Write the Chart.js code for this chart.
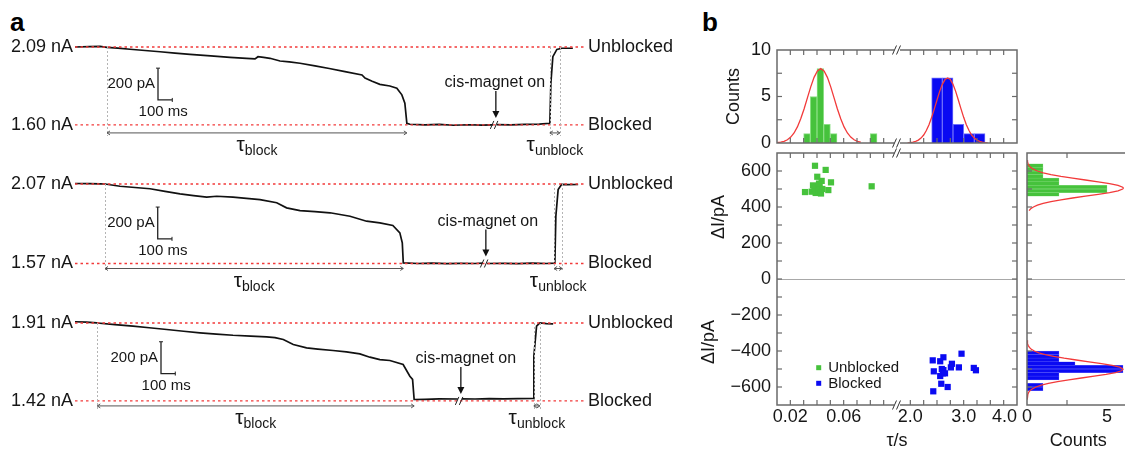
<!DOCTYPE html>
<html><head><meta charset="utf-8">
<script src="https://cdn.jsdelivr.net/npm/chart.js@4.4.1/dist/chart.umd.min.js"></script>
<style>
html,body{margin:0;padding:0;background:#fff;overflow:hidden;width:1125px;height:453px;}
#root{position:relative;width:1125px;height:453px;overflow:hidden;background:#fff;}
canvas{position:absolute;}
.lbl{position:absolute;font:bold 26px 'Liberation Sans',Arial,sans-serif;line-height:26px;color:#000;}
</style></head><body>
<div id="root">
<div class="lbl" style="left:10px;top:9px">a</div>
<div class="lbl" style="left:702px;top:9px">b</div>
<canvas id="tr1" width="700" height="160" style="left:0;top:0"></canvas>
<canvas id="tr2" width="700" height="160" style="left:0;top:137px"></canvas>
<canvas id="tr3" width="700" height="160" style="left:0;top:276px"></canvas>
<canvas id="hTop" width="340" height="110" style="left:690px;top:40px"></canvas>
<canvas id="scat" width="340" height="308" style="left:690px;top:145px"></canvas>
<canvas id="hRight" width="150" height="308" style="left:1000px;top:145px"></canvas>
</div>
<script>
// ================= DATA: panel a (time in ms on display axis, current in nA) =================
const trace1_t = [0,100,175,224,300,385,490,595,700,805,950,1085,1200,1260,1281,1320,1365,1435,1500,1575,1680,1780,1890,2009,2030,2080,2134,2204,2253,2288,2309,2323,2344,2450,2550,2650,2750,2850,2925,2939,2953,3050,3150,3250,3324,3331,3345,3373,3408,3485];
const trace1_I = [2.090,2.092,2.094,2.088,2.083,2.076,2.068,2.060,2.052,2.044,2.034,2.025,2.019,2.015,2.029,2.025,2.019,2.002,1.996,1.988,1.971,1.955,1.935,1.914,1.895,1.875,1.855,1.845,1.831,1.789,1.736,1.610,1.604,1.600,1.603,1.598,1.601,1.599,1.600,null,1.602,1.600,1.603,1.605,1.610,1.862,2.029,2.075,2.082,2.082];
const trace1_levels = [2.09, 1.60];           // unblocked, blocked
const trace1_tauBlock = [224, 2323];
const trace1_tauUnblock = [3324, 3394];
const trace1_break = 2939;

const trace2_t = [0,100,175,210,315,420,525,630,735,830,922,992,1106,1200,1295,1412,1481,1575,1680,1785,1925,2041,2134,2225,2274,2291,2298,2400,2500,2600,2700,2800,2855,2869,2883,3000,3100,3200,3300,3359,3366,3382,3406,3450,3522];
const trace2_I = [2.073,2.072,2.071,2.070,2.056,2.048,2.040,2.024,2.008,1.997,1.987,1.993,1.987,1.980,1.972,1.952,1.920,1.903,1.896,1.889,1.867,1.836,1.826,1.809,1.763,1.700,1.574,1.570,1.572,1.569,1.571,1.570,1.572,null,1.570,1.571,1.569,1.572,1.570,1.572,1.867,2.035,2.067,2.066,2.067];
const trace2_levels = [2.07, 1.57];
const trace2_tauBlock = [210, 2298];
const trace2_tauUnblock = [3354, 3410];
const trace2_break = 2869;

const trace3_t = [0,80,152,156,280,406,520,642,760,875,990,1106,1230,1341,1400,1458,1528,1621,1700,1806,1900,1994,2064,2134,2204,2297,2344,2363,2374,2450,2550,2680,2694,2708,2800,2900,3000,3100,3207,3212,3231,3254,3300,3347];
const trace3_I = [1.918,1.915,1.911,1.910,1.900,1.890,1.880,1.869,1.858,1.848,1.840,1.833,1.828,1.823,1.818,1.806,1.775,1.754,1.746,1.737,1.728,1.716,1.695,1.680,1.674,1.649,1.575,1.555,1.429,1.430,1.433,1.432,null,1.433,1.432,1.434,1.433,1.434,1.435,1.701,1.890,1.911,1.906,1.905];
const trace3_levels = [1.91, 1.42];
const trace3_tauBlock = [156, 2374];
const trace3_tauUnblock = [3212, 3254];
const trace3_break = 2694;

// ================= DATA: panel b =================
// top histogram of tau (bin centres in s, counts)
const histTop_green_tau = [0.0325, 0.0375, 0.0425, 0.0475, 0.0525, 0.0825];
const histTop_green_count = [1, 5, 8, 2, 1, 1];
const histTop_blue_tau = [2.5, 2.7, 2.9, 3.1, 3.3];
const histTop_blue_count = [7, 7, 2, 1, 1];
// fitted curves
const fitTop_green_tau = [0.0100,0.0128,0.0153,0.0178,0.0203,0.0228,0.0253,0.0278,0.0303,0.0328,0.0353,0.0378,0.0403,0.0428,0.0453,0.0478,0.0503,0.0528,0.0553,0.0578,0.0603,0.0628,0.0653,0.0678,0.0703,0.0728];
const fitTop_green_count = [0.04,0.09,0.18,0.35,0.64,1.08,1.73,2.60,3.66,4.85,6.04,7.06,7.75,8.00,7.75,7.06,6.04,4.85,3.66,2.60,1.73,1.08,0.64,0.35,0.18,0.09];
const fitTop_blue_tau = [1.95,2.00,2.05,2.10,2.15,2.20,2.25,2.30,2.35,2.40,2.45,2.50,2.55,2.60,2.65,2.70,2.75,2.80,2.85,2.90,2.95,3.00,3.05,3.10,3.15,3.20,3.25,3.30,3.35,3.40,3.45];
const fitTop_blue_count = [0.02,0.044,0.089,0.17,0.31,0.53,0.86,1.34,1.97,2.76,3.67,4.63,5.55,6.31,6.82,7.00,6.82,6.31,5.55,4.63,3.67,2.76,1.97,1.34,0.86,0.53,0.31,0.17,0.089,0.044,0.02];

// scatter: tau (s) vs delta I (pA)
const scatter_green_tau = [0.0385,0.0465,0.0402,0.0505,0.0810,0.0310,0.0485,0.0360,0.0380,0.0390,0.0370,0.0410,0.0420,0.0430,0.0415,0.0440,0.0425,0.0435];
const scatter_green_dI  = [629,606,568,537,515,483,494,485,505,478,520,490,510,475,530,500,482,545];
const scatter_blue_tau  = [2.42,2.56,2.62,2.96,2.78,2.76,2.91,2.44,2.59,2.62,2.61,2.56,2.65,3.19,3.23,2.58,2.70,2.43];
const scatter_blue_dI   = [-452,-457,-435,-415,-471,-491,-491,-513,-500,-506,-524,-539,-524,-494,-507,-582,-600,-624];
const scatter_labels = ['Unblocked', 'Blocked'];

// right histogram of delta I (bin centres in pA, counts)
const histR_green_dI = [630, 610, 590, 570, 550, 530, 510, 490, 470];
const histR_green_count = [1, 1, 1, 1, 2, 2, 5, 5, 2];
const histR_blue_dI = [-410, -430, -450, -470, -490, -510, -530, -550, -590, -610];
const histR_blue_count = [2, 2, 2, 3, 6, 6, 2, 2, 1, 1];
const fitR_green_dI = [660,650,640,630,620,610,600,590,580,570,560,550,540,530,520,510,505,500,490,480,470,460,450,440,430,420,410,400,390,380];
const fitR_green_count = [0.016,0.034,0.067,0.13,0.23,0.40,0.65,1.01,1.50,2.12,2.85,3.65,4.45,5.16,5.69,5.98,6.02,5.98,5.69,5.16,4.45,3.65,2.85,2.12,1.50,1.01,0.65,0.40,0.23,0.13];
const fitR_blue_dI = [-340,-350,-360,-370,-380,-390,-400,-410,-420,-430,-440,-450,-460,-470,-480,-490,-500,-502,-510,-520,-530,-540,-550,-560,-570,-580,-590,-600,-610,-620,-630,-640,-650,-660,-670];
const fitR_blue_count = [0.009,0.02,0.041,0.081,0.15,0.27,0.46,0.74,1.14,1.67,2.32,3.08,3.88,4.66,5.32,5.79,5.99,6.00,5.91,5.54,4.94,4.20,3.40,2.61,1.91,1.34,0.89,0.56,0.34,0.19,0.10,0.055,0.027,0.013,0.006];

// tick labels
const tauTickLabels = [0.02, 0.06, 2.0, 3.0, 4.0];
const countTickLabels = [0, 5];

// ================= STYLE / LAYOUT =================
const FONT = "'Liberation Sans', Arial, Helvetica, sans-serif";
const INK = '#161616';
const RED = '#f23a3a';
const GREEN = '#46c23c', GREEN_EDGE = '#8ade83';
const BLUE = '#0a0af2', BLUE_EDGE = '#6d6dfb';
const FRAME = '#6a6a6a';
Chart.defaults.font.family = FONT;
Chart.defaults.color = INK;

// broken tau axis: left segment 0.01..0.10 (linear), right segment 1.75..4.0 (linear)
function tauToAxis(t) { return t < 1 ? (t - 0.01) / 0.01 : 9 + (t - 1.75) / 0.25; }
const AXIS_MAX = 18, AXIS_BREAK = 9;

function xy(xs, ys, fx) { return xs.map((v, i) => ({x: fx ? fx(v) : v, y: ys[i]})); }
function yx(ys, xs) { return ys.map((v, i) => ({x: xs[i], y: v})); }
function fixW(w) { return s => { s.width = w; s.paddingTop = 0; s.paddingBottom = 0; }; }
function fixH(h) { return s => { s.height = h; s.paddingLeft = 0; s.paddingRight = 0; }; }
function line(ctx, x1, y1, x2, y2) { ctx.beginPath(); ctx.moveTo(x1, y1); ctx.lineTo(x2, y2); ctx.stroke(); }

// ---------- panel a plugin ----------
const traceAnn = {
  id: 'traceAnn',
  afterDatasetsDraw(chart, args, o) {
    const {ctx} = chart;
    const X = v => chart.scales.x.getPixelForValue(v);
    const Y = v => chart.scales.y.getPixelForValue(v);
    const yU = Y(o.levels[0]), yB = Y(o.levels[1]);
    const ay = yB + o.arrowGap;
    ctx.save();
    ctx.strokeStyle = '#b4b4b4'; ctx.lineWidth = 1; ctx.setLineDash([2, 2]);
    [o.tauBlock[0], o.tauUnblock[0], o.tauUnblock[1]].forEach(t => line(ctx, Math.round(X(t)) + 0.5, yU, Math.round(X(t)) + 0.5, ay + 3));
    ctx.setLineDash([]);
    ctx.strokeStyle = '#555'; ctx.lineWidth = 1;
    [o.tauBlock, o.tauUnblock].forEach(r => {
      const x1 = X(r[0]), x2 = X(r[1]);
      line(ctx, x1, ay, x2, ay);
      ctx.beginPath(); ctx.moveTo(x1 + 3, ay - 2); ctx.lineTo(x1, ay); ctx.lineTo(x1 + 3, ay + 2);
      ctx.moveTo(x2 - 3, ay - 2); ctx.lineTo(x2, ay); ctx.lineTo(x2 - 3, ay + 2); ctx.stroke();
    });
    ctx.fillStyle = INK; ctx.textBaseline = 'alphabetic'; ctx.textAlign = 'left';
    [[o.tauBlock, 'block'], [o.tauUnblock, 'unblock']].forEach(([r, sub]) => {
      const cx = (X(r[0]) + X(r[1])) / 2;
      ctx.font = '21px ' + FONT; const w1 = ctx.measureText('τ').width;
      ctx.font = '14px ' + FONT; const w2 = ctx.measureText(sub).width;
      const x0 = cx - (w1 + w2) / 2;
      ctx.font = '21px ' + FONT; ctx.fillText('τ', x0, ay + 18);
      ctx.font = '14px ' + FONT; ctx.fillText(sub, x0 + w1, ay + 22);
    });
    const xb = X(o.breakT);
    ctx.strokeStyle = '#222'; ctx.lineWidth = 1;
    line(ctx, xb - 4.5, yB + 4, xb - 1, yB - 4);
    line(ctx, xb - 0.5, yB + 4, xb + 3, yB - 4);
    ctx.font = '16px ' + FONT; ctx.textAlign = 'center'; ctx.textBaseline = 'middle';
    ctx.fillText('cis-magnet on', xb + o.textShift, yB - 42);
    ctx.strokeStyle = '#111'; ctx.lineWidth = 1.3;
    line(ctx, xb + 1, yB - 34, xb + 1, yB - 13);
    ctx.fillStyle = '#111'; ctx.beginPath();
    ctx.moveTo(xb - 2.5, yB - 14); ctx.lineTo(xb + 4.5, yB - 14); ctx.lineTo(xb + 1, yB - 7); ctx.closePath(); ctx.fill();
    const sb = o.scaleBar;
    const sx = X(sb.t), sy = Y(sb.I), sTop = Y(sb.I + 0.2), sx2 = X(sb.t + 100);
    ctx.strokeStyle = '#222'; ctx.lineWidth = 1.3;
    ctx.beginPath(); ctx.moveTo(sx, sTop); ctx.lineTo(sx, sy); ctx.lineTo(sx2, sy); ctx.stroke();
    ctx.lineWidth = 1;
    line(ctx, sx - 2, sTop, sx + 2, sTop); line(ctx, sx2, sy - 2, sx2, sy + 2);
    ctx.fillStyle = INK; ctx.font = '15px ' + FONT;
    ctx.textAlign = 'right'; ctx.fillText('200 pA', sx - 3, (sy + sTop) / 2);
    ctx.textAlign = 'center'; ctx.fillText('100 ms', (sx + sx2) / 2 - 2, sy + 12);
    ctx.restore();
  }
};

const T_MAX = 3570, PX_PER_NA = 159, AREA_H = 105, TOP_GAP = 17;
function makeTrace(id, t, I, levels, tauBlock, tauUnblock, breakT, lay) {
  const [U, B] = levels;
  const yMax = U + TOP_GAP / PX_PER_NA, yMin = yMax - AREA_H / PX_PER_NA;
  const levelTicks = s => { s.ticks = [{value: B}, {value: U}]; };
  new Chart(document.getElementById(id), {
    type: 'line',
    data: {datasets: [
      {data: [{x: 0, y: U}, {x: T_MAX, y: U}], borderColor: RED, borderDash: [2.5, 3], borderWidth: 1.4, pointRadius: 0},
      {data: [{x: 0, y: B}, {x: T_MAX, y: B}], borderColor: RED, borderDash: [2.5, 3], borderWidth: 1.4, pointRadius: 0},
      {data: xy(t, I), borderColor: '#111', borderWidth: 1.7, pointRadius: 0, spanGaps: false, tension: 0}
    ]},
    options: {
      responsive: false, animation: false, events: [],
      layout: {padding: {top: 30, bottom: 25, left: 0, right: 0}},
      plugins: {legend: {display: false}, tooltip: {enabled: false},
        traceAnn: {levels, tauBlock, tauUnblock, breakT, arrowGap: lay.arrowGap, scaleBar: lay.scaleBar, textShift: lay.textShift}},
      scales: {
        x: {type: 'linear', min: 0, max: T_MAX, display: false},
        y: {type: 'linear', position: 'left', min: yMin, max: yMax,
            grid: {display: false, drawTicks: false}, border: {display: false},
            afterBuildTicks: levelTicks, afterFit: fixW(75),
            ticks: {padding: 2, font: {size: 18}, color: INK, callback: v => v.toFixed(2) + ' nA'}},
        yR: {type: 'linear', position: 'right', min: yMin, max: yMax,
            grid: {display: false, drawTicks: false}, border: {display: false},
            afterBuildTicks: levelTicks, afterFit: fixW(115),
            ticks: {padding: 3, font: {size: 18}, color: INK, callback: (v, i) => i === 1 ? 'Unblocked' : 'Blocked'}}
      }
    },
    plugins: [traceAnn]
  });
}
makeTrace('tr1', trace1_t, trace1_I, trace1_levels, trace1_tauBlock, trace1_tauUnblock, trace1_break, {arrowGap: 8, textShift: 0, scaleBar: {t: 581, I: 1.757}});
makeTrace('tr2', trace2_t, trace2_I, trace2_levels, trace2_tauBlock, trace2_tauUnblock, trace2_break, {arrowGap: 5, textShift: 3, scaleBar: {t: 579, I: 1.725}});
makeTrace('tr3', trace3_t, trace3_I, trace3_levels, trace3_tauBlock, trace3_tauUnblock, trace3_break, {arrowGap: 5, textShift: 6, scaleBar: {t: 602, I: 1.592}});

// ---------- panel b plugins ----------
function breakMark(ctx, x, y) {
  ctx.fillStyle = '#fff'; ctx.fillRect(x - 3, y - 2, 6, 4);
  ctx.strokeStyle = '#333'; ctx.lineWidth = 1;
  line(ctx, x - 4.5, y + 4.5, x - 0.5, y - 4.5);
  line(ctx, x - 0.5, y + 4.5, x + 3.5, y - 4.5);
}
const frame = {
  id: 'frame',
  afterDatasetsDraw(chart, args, o) {
    const {ctx, chartArea: a} = chart;
    const L = 5;
    ctx.save();
    if (o.zero) {
      const y0 = Math.round(chart.scales[o.zero].getPixelForValue(0)) + 0.5;
      ctx.strokeStyle = '#a8a8a8'; ctx.lineWidth = 1; line(ctx, a.left, y0, a.right, y0);
    }
    ctx.strokeStyle = FRAME; ctx.lineWidth = 1.2;
    const sx = chart.scales[o.x], sy = chart.scales[o.y];
    sx.ticks.forEach(t => {
      if (o.skipX && o.skipX.includes(t.value)) return;
      const x = sx.getPixelForValue(t.value);
      if (x <= a.left + 1 || x >= a.right - 1) return;
      if (o.top) line(ctx, x, a.top, x, a.top + L);
      if (o.bottom) line(ctx, x, a.bottom, x, a.bottom - L);
    });
    sy.ticks.forEach(t => {
      const y = sy.getPixelForValue(t.value);
      if (y <= a.top + 1 || y >= a.bottom - 1) return;
      if (o.left) line(ctx, a.left, y, a.left + L, y);
      if (o.right) line(ctx, a.right, y, a.right - L, y);
    });
    ctx.strokeStyle = FRAME; ctx.lineWidth = 1.5;
    ctx.strokeRect(a.left, a.top, a.right - a.left, a.bottom - a.top);
    if (o.breakAt != null) {
      const xb = sx.getPixelForValue(o.breakAt);
      breakMark(ctx, xb, a.top); breakMark(ctx, xb, a.bottom);
    }
    ctx.restore();
  }
};
const scatterExtras = {
  id: 'scatterExtras',
  afterDraw(chart, args, o) {
    const {ctx, chartArea: a} = chart;
    ctx.save();
    ctx.font = '15px ' + FONT; ctx.textBaseline = 'middle'; ctx.textAlign = 'left';
    chart.data.datasets.forEach((d, i) => {
      const cx = a.left + o.legendDx, cy = a.bottom - o.legendDy + i * o.legendGap;
      ctx.fillStyle = d.backgroundColor; ctx.fillRect(cx - 2.5, cy - 2.5, 5, 5);
      ctx.fillStyle = INK; ctx.fillText(d.label, cx + 9.5, cy + 0.5);
    });
    ctx.font = '18px ' + FONT; ctx.textAlign = 'center';
    o.titles.forEach(p => {
      ctx.save(); ctx.translate(p.x, p.y); ctx.rotate(-Math.PI / 2);
      ctx.fillText(p.text, 0, 0); ctx.restore();
    });
    ctx.restore();
  }
};
// value-axis labels of the right histogram, placed through its x scale
const countLabels = {
  id: 'countLabels',
  afterDraw(chart, args, o) {
    const {ctx, chartArea: a} = chart; const s = chart.scales.x;
    ctx.save(); ctx.font = '18px ' + FONT; ctx.fillStyle = INK; ctx.textAlign = 'center'; ctx.textBaseline = 'middle';
    o.values.forEach(v => ctx.fillText(String(v), s.getPixelForValue(v), a.bottom + o.dy));
    ctx.restore();
  }
};

const tickFont = {size: 18};
const noGrid = {display: false, drawTicks: false};
const noBorder = {display: false};
const barBase = {barPercentage: 1, categoryPercentage: 1, grouped: false, borderWidth: 1};
const barThin = {barPercentage: 1, categoryPercentage: 1, grouped: false, borderWidth: 0.5};

// top histogram
new Chart(document.getElementById('hTop'), {
  type: 'bar',
  data: {datasets: [
    {type: 'line', order: 0, data: xy(fitTop_green_tau, fitTop_green_count, tauToAxis), borderColor: RED, borderWidth: 1.3, pointRadius: 0, tension: 0, xAxisID: 'x'},
    {type: 'line', order: 0, data: xy(fitTop_blue_tau, fitTop_blue_count, tauToAxis), borderColor: RED, borderWidth: 1.3, pointRadius: 0, tension: 0, xAxisID: 'x'},
    {...barBase, order: 1, data: xy(histTop_green_tau, histTop_green_count, tauToAxis), backgroundColor: GREEN, borderColor: GREEN_EDGE, xAxisID: 'x'},
    {...barBase, order: 1, data: xy(histTop_blue_tau, histTop_blue_count, tauToAxis), backgroundColor: BLUE, borderColor: BLUE_EDGE, xAxisID: 'x2'}
  ]},
  options: {
    responsive: false, animation: false, events: [],
    layout: {padding: {top: 10, right: 13, bottom: 7, left: 0}},
    plugins: {legend: {display: false}, tooltip: {enabled: false},
      frame: {x: 'x', y: 'y', top: true, bottom: true, left: true, right: true, skipX: [AXIS_BREAK], breakAt: AXIS_BREAK}},
    scales: {
      x: {type: 'linear', min: 0, max: AXIS_MAX, offset: false, grid: noGrid, border: noBorder,
          ticks: {display: false, stepSize: 1}, afterFit: fixH(0)},
      x2: {type: 'linear', min: 0, max: AXIS_MAX, offset: false, display: false},
      y: {type: 'linear', min: 0, max: 10, grid: noGrid, border: noBorder,
          ticks: {stepSize: 2.5, padding: 6, font: tickFont, color: INK, autoSkip: false, callback: v => v % 5 === 0 ? String(v) : ''},
          title: {display: true, text: 'Counts', font: {size: 18}, color: INK, padding: {top: 33, bottom: 0}},
          afterFit: fixW(87)}
    }
  },
  plugins: [frame]
});

// scatter
function signed(v) { return v < 0 ? '\u2212' + Math.abs(v) : String(v); }
new Chart(document.getElementById('scat'), {
  type: 'scatter',
  data: {datasets: [
    {label: scatter_labels[0], data: xy(scatter_green_tau, scatter_green_dI, tauToAxis), backgroundColor: GREEN, borderWidth: 0, pointStyle: 'rect', pointRadius: 4.4},
    {label: scatter_labels[1], data: xy(scatter_blue_tau, scatter_blue_dI, tauToAxis), backgroundColor: BLUE, borderWidth: 0, pointStyle: 'rect', pointRadius: 4.4}
  ]},
  options: {
    responsive: false, animation: false, events: [],
    layout: {padding: {top: 8, right: 13, bottom: 0, left: 0}},
    plugins: {legend: {display: false}, tooltip: {enabled: false},
      frame: {x: 'x', y: 'y', top: true, bottom: true, left: true, right: true, skipX: [AXIS_BREAK], breakAt: AXIS_BREAK, zero: 'y'},
      scatterExtras: {legendDx: 41.7, legendDy: 37.3, legendGap: 15.6,
        titles: [{text: 'ΔI/pA', x: 29, y: 72}, {text: 'ΔI/pA', x: 19, y: 197}]}},
    scales: {
      x: {type: 'linear', min: 0, max: AXIS_MAX, grid: noGrid, border: noBorder,
          ticks: {stepSize: 1, autoSkip: false, maxRotation: 0, padding: 1, font: tickFont, color: INK,
            callback: v => {
              const k = tauTickLabels.findIndex(t => Math.abs(tauToAxis(t) - v) < 1e-6);
              if (k < 0) return '';
              const t = tauTickLabels[k];
              let s = t < 1 ? t.toFixed(2) : t.toFixed(1);
              if (k === tauTickLabels.length - 1) s += '     ';
              return s;
            }},
          title: {display: true, text: 'τ/s', font: {size: 18}, color: INK, padding: {top: 0, bottom: 1}},
          afterFit: fixH(48)},
      y: {type: 'linear', min: -700, max: 700, grid: noGrid, border: noBorder,
          ticks: {stepSize: 100, autoSkip: false, padding: 6, font: tickFont, color: INK,
            callback: v => (v % 200 === 0 && Math.abs(v) <= 600) ? signed(v) : ''},
          afterFit: fixW(87)}
    }
  },
  plugins: [frame, scatterExtras]
});

// right histogram
new Chart(document.getElementById('hRight'), {
  type: 'bar',
  data: {datasets: [
    {type: 'line', order: 0, indexAxis: 'y', data: yx(fitR_green_dI, fitR_green_count), borderColor: RED, borderWidth: 1.3, pointRadius: 0, tension: 0, yAxisID: 'y'},
    {type: 'line', order: 0, indexAxis: 'y', data: yx(fitR_blue_dI, fitR_blue_count), borderColor: RED, borderWidth: 1.3, pointRadius: 0, tension: 0, yAxisID: 'y'},
    {...barThin, order: 1, data: yx(histR_green_dI, histR_green_count), backgroundColor: GREEN, borderColor: GREEN_EDGE, yAxisID: 'y'},
    {...barThin, order: 1, data: yx(histR_blue_dI, histR_blue_count), backgroundColor: BLUE, borderColor: BLUE_EDGE, yAxisID: 'y2'}
  ]},
  options: {
    indexAxis: 'y',
    responsive: false, animation: false, events: [],
    layout: {padding: {top: 8, right: 20.6, bottom: 0, left: 0}},
    plugins: {legend: {display: false}, tooltip: {enabled: false},
      frame: {x: 'x', y: 'y', top: true, bottom: true, left: true, right: false, zero: 'y'},
      countLabels: {values: countTickLabels, dy: 12}},
    scales: {
      x: {type: 'linear', min: 0, max: 6.4, grid: noGrid, border: noBorder,
          ticks: {stepSize: 2.5, display: false},
          title: {display: true, text: 'Counts', font: {size: 18}, color: INK, padding: {top: 0, bottom: 1}},
          afterFit: fixH(48)},
      y: {type: 'linear', min: -700, max: 700, offset: false, grid: noGrid, border: noBorder,
          ticks: {stepSize: 100, display: false}, afterFit: fixW(27)},
      y2: {type: 'linear', min: -700, max: 700, offset: false, display: false}
    }
  },
  plugins: [frame, countLabels]
});
</script>
</body></html>
